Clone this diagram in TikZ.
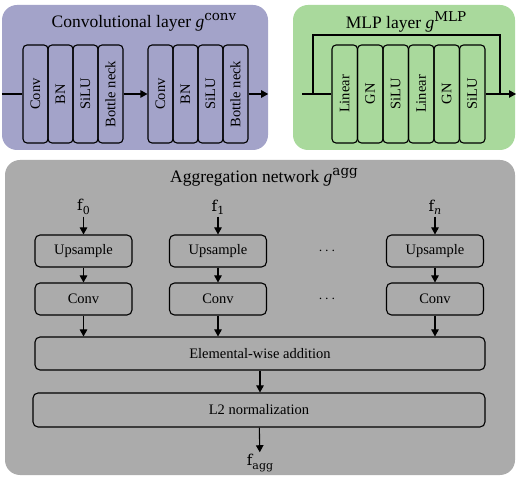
\documentclass[tikz,border=0pt]{standalone}
\usepackage{fontspec}
\setmainfont{Liberation Serif}
\newfontfamily\symfont{DejaVu Serif}
\usetikzlibrary{arrows.meta,positioning,calc}
\definecolor{convfill}{HTML}{A3A3C9}
\definecolor{mlpfill}{HTML}{A9D99C}
\definecolor{aggfill}{HTML}{ABABAB}
\newcommand{\gsup}[1]{\textit{g}\raisebox{0.42em}{\symfont\fontsize{13.5}{14}\selectfont #1}}
\newcommand{\fsub}[1]{{\symfont f}\raisebox{-0.22em}{\symfont\fontsize{11}{12}\selectfont #1}}
\begin{document}
\begin{tikzpicture}[x=1pt,y=1pt,
    panel/.style={rounded corners=15pt,inner sep=0pt},
    layer/.style={draw,line width=1.1pt,rounded corners=4pt,rotate=90,minimum width=98pt,minimum height=25pt,inner sep=0pt,font=\fontsize{14.5}{16}\selectfont},
    op/.style={draw,line width=1.1pt,rounded corners=5pt,minimum width=97pt,minimum height=32pt,inner sep=0pt,font=\fontsize{14.5}{16}\selectfont},
    flow/.style={line width=1.1pt,-{Triangle[length=7pt,width=7.5pt]}},
    title/.style={font=\fontsize{17.5}{19}\selectfont},
    feat/.style={inner sep=2pt,font=\fontsize{15}{17}\selectfont}]
\useasboundingbox (0,0) rectangle (517,477);
% panels
\node[panel,fill=convfill,minimum width=266pt,minimum height=145pt] (conv) at (135,399.5) {};
\node[panel,fill=mlpfill,minimum width=222pt,minimum height=145pt] (mlp) at (404,399.5) {};
\node[panel,fill=aggfill,minimum width=510pt,minimum height=315pt] (agg) at (260,159.5) {};
\node[title] (convtitle) at (144,455) {Convolutional layer \gsup{conv}};
\node[title] (mlptitle) at (406,455) {MLP layer \gsup{MLP}};
\node[title] (aggtitle) at (264,300) {Aggregation network \gsup{agg}};

% convolutional layer
\foreach \t [count=\i] in {Conv,BN,SiLU,Bottle neck}{
  \node[layer] (a\i) at ({10.5+25*\i},383) {\t};
  \node[layer] (b\i) at ({135.5+25*\i},383) {\t};
}
\draw[line width=1.1pt] (conv.west |- a1) -- (a1);
\draw[flow] (a4) -- (b1);
\draw[flow] (b4) -- (conv.east |- b4);

% MLP layer
\foreach \t [count=\i] in {Linear,GN,SiLU,Linear,GN,SiLU}
  \node[layer,minimum height=25.5pt] (m\i) at ({319.25+25.5*\i},383) {\t};
\coordinate (min) at (302,383);
\coordinate (skipa) at (313,383);
\coordinate (skipb) at (500,383);
\coordinate (mout) at (516,383);
\draw[line width=1.1pt] (min) -- (m1);
\draw[line width=1.1pt] (skipa) -- ++(0,59) -| (skipb);
\draw[flow] (m6) -- (mout);

% aggregation network
\node[op,minimum width=450pt,minimum height=33pt] (add) at (260,123.5) {Elemental-wise addition};
\node[op,minimum width=452pt,minimum height=34pt] (norm) at (259,67) {L2 normalization};
\foreach \n/\x/\lab in {0/83.5/0,1/218/1,n/435/\textit{n}}{
  \node[feat] (f\n) at (\x,270) {\fsub{\lab}};
  \node[op] (up\n) at (\x,226) {Upsample};
  \node[op] (cv\n) at (\x,178) {Conv};
  \draw[flow] (f\n) -- (up\n);
  \draw[flow] (up\n) -- (cv\n);
  \draw[flow] (cv\n) -- (cv\n |- add.north);
}
\node[font=\fontsize{14.5}{16}\selectfont] (dotsa) at (327,226) {$\cdots$};
\node[font=\fontsize{14.5}{16}\selectfont] (dotsb) at (327,178) {$\cdots$};
\draw[flow] (add) -- (add |- norm.north);
\node[feat] (fagg) at (260,14) {\fsub{agg}};
\draw[flow] (norm) -- (fagg);
\end{tikzpicture}
\end{document}
